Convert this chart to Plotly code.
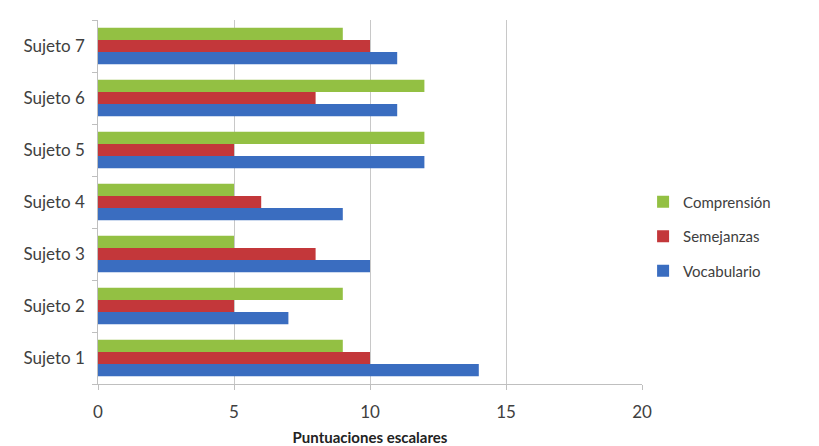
import plotly.graph_objects as go

categories = ["Sujeto 1", "Sujeto 2", "Sujeto 3", "Sujeto 4", "Sujeto 5", "Sujeto 6", "Sujeto 7"]
vocabulario = [14, 7, 10, 9, 12, 11, 11]
semejanzas = [10, 5, 8, 6, 5, 8, 10]
comprension = [9, 9, 5, 5, 12, 12, 9]
x_ticks = [0, 5, 10, 15, 20]

series = [
    ("Vocabulario", vocabulario, "#3A6DC0", 3),
    ("Semejanzas", semejanzas, "#C3373A", 2),
    ("Comprensión", comprension, "#93C043", 1),
]

fig = go.Figure()
for name, vals, color, rank in series:
    fig.add_trace(go.Bar(
        y=categories, x=vals, name=name, orientation="h",
        marker=dict(color=color, line=dict(width=0)),
        legendgroup=name, legendrank=rank,
    ))

font_family = "Lato, Open Sans, sans-serif"
fig.update_layout(
    width=819, height=446,
    margin=dict(l=98, r=177, t=20, b=62),
    paper_bgcolor="white", plot_bgcolor="white",
    barmode="group", bargap=0.3, bargroupgap=0,
    font=dict(family=font_family, size=15, color="#404040"),
    legend=dict(
        x=1.002, y=0.405, xanchor="left", yanchor="middle",
        traceorder="grouped", tracegroupgap=12,
        font=dict(size=15, color="#404040"),
    ),
    xaxis=dict(
        range=[0, 20], tickvals=x_ticks, ticktext=[str(v) for v in x_ticks],
        showgrid=True, gridcolor="#C8C8C8", gridwidth=1,
        showline=True, linecolor="#BFBFBF", linewidth=1,
        ticks="outside", ticklen=5, tickcolor="#BFBFBF",
        ticklabelstandoff=8, automargin=False,
        zeroline=False,
        title=dict(text="<b>Puntuaciones escalares</b>", font=dict(size=15, color="#222222"), standoff=16),
        tickfont=dict(size=17, color="#404040"),
    ),
    yaxis=dict(
        categoryorder="array", categoryarray=categories,
        showline=True, linecolor="#BFBFBF", linewidth=1,
        ticks="outside", ticklen=5, tickcolor="#BFBFBF",
        tickson="boundaries", showgrid=False, automargin=False,
        tickfont=dict(size=17, color="#404040"),
        ticksuffix="  ",
    ),
)

fig.write_html("out.html")
